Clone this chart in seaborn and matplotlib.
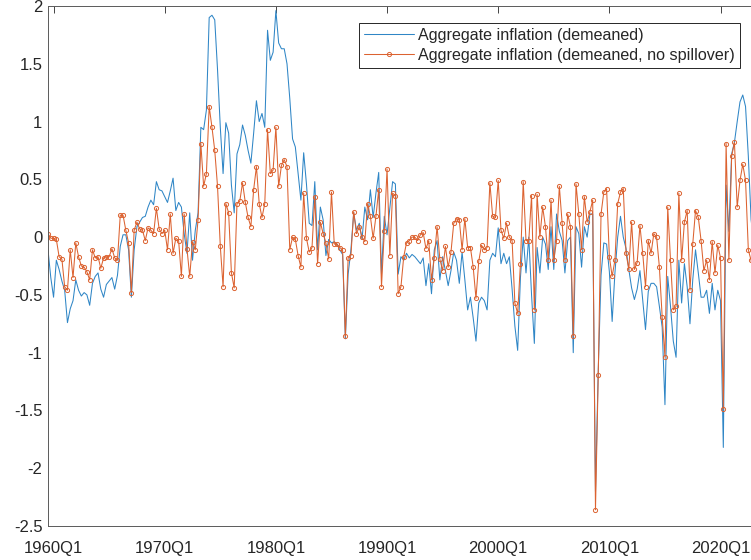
import numpy as np
import pandas as pd
import matplotlib
matplotlib.use("Agg")
import matplotlib.pyplot as plt
import seaborn as sns

# Quarterly sample start
start_quarter = "1959Q3"

# Aggregate inflation, demeaned
inflation = [
    -0.11, -0.35, -0.52, -0.20, -0.28, -0.38, -0.46, -0.74, -0.62, -0.55,
    -0.37, -0.46, -0.51, -0.48, -0.50, -0.59, -0.40, -0.34, -0.31, -0.45,
    -0.52, -0.41, -0.38, -0.35, -0.45, -0.33, -0.08, 0.02, 0.02, -0.11,
    -0.52, -0.11, 0.09, 0.13, 0.17, 0.18, 0.26, 0.32, 0.28, 0.48,
    0.41, 0.40, 0.35, 0.30, 0.40, 0.51, 0.23, 0.30, 0.26, 0.03,
    -0.14, 0.21, -0.20, 0.06, 0.21, 0.95, 0.93, 1.10, 1.90, 1.92,
    1.88, 1.45, 0.95, 0.55, 0.99, 0.90, 0.45, 0.21, 0.72, 0.80,
    0.97, 0.88, 0.75, 0.64, 0.90, 1.18, 1.00, 1.07, 0.95, 1.79,
    1.53, 1.60, 1.96, 1.68, 1.63, 1.63, 1.50, 1.20, 0.85, 0.78,
    0.55, 0.32, 0.73, 0.46, 0.12, 0.10, 0.48, -0.11, 0.26, 0.15,
    -0.16, -0.02, -0.05, -0.04, -0.06, -0.11, -0.15, -0.88, -0.32, -0.11,
    0.21, 0.06, 0.12, -0.02, 0.26, 0.15, 0.41, 0.17, 0.38, 0.56,
    -0.32, 0.18, 0.02, 0.25, 0.48, 0.46, -0.32, -0.17, -0.20, -0.14,
    -0.18, -0.15, -0.17, -0.20, -0.23, -0.18, -0.42, -0.23, -0.49, -0.11,
    -0.03, -0.37, -0.17, -0.29, -0.42, -0.29, -0.13, -0.20, -0.40, -0.13,
    -0.37, -0.63, -0.52, -0.70, -0.90, -0.57, -0.52, -0.55, -0.63, -0.20,
    -0.14, -0.17, 0.08, -0.23, -0.14, -0.23, -0.17, -0.45, -0.77, -0.98,
    -0.35, 0.00, -0.31, 0.00, -0.50, -0.92, -0.09, -0.31, 0.00, -0.06,
    -0.28, 0.09, -0.28, 0.20, 0.05, -0.03, -0.31, -0.03, 0.00, -1.00,
    0.09, 0.03, -0.26, 0.09, 0.00, 0.20, 0.20, -2.20, -1.15, -0.33,
    -0.05, -0.06, -0.30, -0.73, -0.31, 0.00, 0.18, 0.00, -0.10, -0.28,
    -0.44, -0.54, -0.45, -0.29, -0.55, -0.80, -0.47, -0.40, -0.40, -0.43,
    -0.60, -0.78, -1.45, -0.34, -0.60, -0.90, -1.04, -0.20, -0.57, -0.23,
    -0.43, -0.75, -0.37, -0.11, -0.31, -0.52, -0.52, -0.46, -0.66, -0.40,
    -0.63, -0.46, -0.55, -1.82, 0.45, 0.05, 0.72, 0.82, 1.00, 1.17,
    1.23, 1.13, 0.70, 0.15, -0.05, 0.05,
]

# Aggregate inflation, demeaned, without sectoral spillovers
inflation_no_spill = [
    0.03, -0.01, -0.01, -0.02, -0.17, -0.19, -0.43, -0.46, -0.11, -0.35,
    -0.05, -0.17, -0.25, -0.26, -0.30, -0.37, -0.11, -0.18, -0.17, -0.27,
    -0.18, -0.17, -0.17, -0.10, -0.18, -0.20, 0.19, 0.19, 0.06, -0.05,
    -0.48, 0.06, 0.13, 0.07, 0.06, -0.03, 0.08, 0.06, 0.03, 0.25,
    0.07, 0.03, 0.06, -0.11, 0.20, -0.14, -0.01, -0.03, -0.34, 0.20,
    -0.10, -0.34, -0.04, -0.11, 0.15, 0.81, 0.44, 0.55, 1.13, 0.95,
    0.75, 0.44, -0.08, -0.43, 0.29, 0.21, -0.31, -0.44, 0.29, 0.31,
    0.47, 0.30, 0.17, 0.09, 0.41, 0.61, 0.29, 0.17, 0.29, 0.93,
    0.55, 0.58, 0.95, 0.44, 0.62, 0.67, 0.61, -0.11, 0.00, -0.02,
    -0.16, -0.26, 0.38, -0.01, -0.13, -0.09, 0.35, -0.23, 0.13, 0.03,
    -0.05, -0.19, 0.39, -0.06, -0.06, -0.09, -0.11, -0.86, -0.18, -0.16,
    0.22, 0.03, 0.09, 0.00, -0.04, 0.29, 0.18, -0.01, 0.18, 0.41,
    -0.43, 0.05, 0.59, -0.16, 0.38, 0.36, -0.49, -0.43, -0.17, -0.05,
    -0.03, 0.00, 0.00, -0.03, 0.02, 0.04, -0.10, -0.03, -0.37, -0.18,
    0.09, -0.19, -0.29, -0.08, -0.26, -0.13, 0.12, 0.16, 0.15, -0.11,
    0.16, -0.09, -0.09, -0.26, -0.53, -0.21, -0.07, -0.11, -0.09, 0.47,
    0.18, 0.17, 0.49, 0.06, -0.01, 0.12, 0.00, -0.03, -0.57, -0.66,
    -0.23, 0.48, -0.03, -0.03, 0.36, -0.63, 0.37, 0.00, 0.26, 0.09,
    -0.20, 0.32, -0.20, -0.03, 0.44, 0.12, -0.20, 0.20, 0.09, -0.86,
    0.46, 0.20, -0.11, 0.35, 0.13, 0.22, 0.32, -2.36, -1.19, 0.20,
    0.39, 0.42, -0.17, -0.34, -0.20, 0.29, 0.39, 0.42, -0.14, -0.28,
    0.13, -0.28, -0.22, 0.10, -0.14, -0.43, -0.03, -0.14, 0.03, 0.00,
    -0.26, -0.69, -1.04, 0.26, -0.20, -0.63, -0.60, 0.38, -0.20, 0.13,
    0.23, -0.46, -0.06, 0.23, 0.17, -0.03, -0.29, -0.20, -0.37, -0.04,
    -0.31, -0.07, -0.18, -1.49, 0.81, -0.20, 0.70, 0.82, 0.26, 0.49,
    0.63, 0.49, -0.11, -0.20, -0.30, -0.25,
]

series_labels = [
    "Aggregate inflation (demeaned)",
    "Aggregate inflation (demeaned, no spillover)",
]
x_tick_labels = ["1960Q1", "1970Q1", "1980Q1", "1990Q1", "2000Q1", "2010Q1", "2020Q1"]
y_ticks = [-2.5, -2, -1.5, -1, -0.5, 0, 0.5, 1, 1.5, 2]
y_tick_labels = ["-2.5", "-2", "-1.5", "-1", "-0.5", "0", "0.5", "1", "1.5", "2"]

quarters = pd.period_range(start_quarter, periods=len(inflation), freq="Q")
quarter_names = list(quarters.astype(str))
df = pd.DataFrame({
    "t": np.arange(len(quarters)),
    "quarter": quarter_names,
    "infl": inflation,
    "infl_ns": inflation_no_spill,
})

sns.set_theme(style="white")
plt.rcParams["font.family"] = ["Liberation Sans", "DejaVu Sans"]

BLUE = "#2f86c6"
ORANGE = "#dc6230"
AXIS = "#262626"

fig = plt.figure(figsize=(7.51, 5.60), dpi=100)
ax = fig.add_axes([48 / 751, 34 / 560, 717 / 751, 520 / 560])

sns.lineplot(data=df, x="t", y="infl", ax=ax, color=BLUE, linewidth=0.75,
             label=series_labels[0])
sns.lineplot(data=df, x="t", y="infl_ns", ax=ax, color=ORANGE, linewidth=0.75,
             marker="o", markersize=3.0, markerfacecolor="none",
             markeredgecolor=ORANGE, markeredgewidth=0.7,
             label=series_labels[1])

ax.set_xlim(0, 258)
ax.set_ylim(-2.5, 2)
ax.set_xticks([quarter_names.index(q) for q in x_tick_labels])
ax.set_xticklabels(x_tick_labels)
ax.set_yticks(y_ticks)
ax.set_yticklabels(y_tick_labels)
ax.set_xlabel("")
ax.set_ylabel("")

ax.tick_params(axis="both", direction="in", length=5, width=0.6, top=True,
               right=True, colors=AXIS, labelcolor=AXIS, labelsize=12)
ax.tick_params(axis="x", pad=11)
ax.tick_params(axis="y", pad=4)
for sp in ax.spines.values():
    sp.set_visible(True)
    sp.set_color("#5a5a5a")
    sp.set_linewidth(0.7)

ax.legend(loc="upper right", bbox_to_anchor=(740 / 751, 1 - 23 / 560),
          bbox_transform=fig.transFigure, fontsize=11.6, frameon=True,
          fancybox=False, framealpha=1, edgecolor=AXIS, handlelength=3.15,
          handletextpad=0.25, borderpad=0.3, labelspacing=0.3,
          borderaxespad=0)
ax.get_legend().get_frame().set_linewidth(0.7)

fig.savefig("out.png", dpi=100)
